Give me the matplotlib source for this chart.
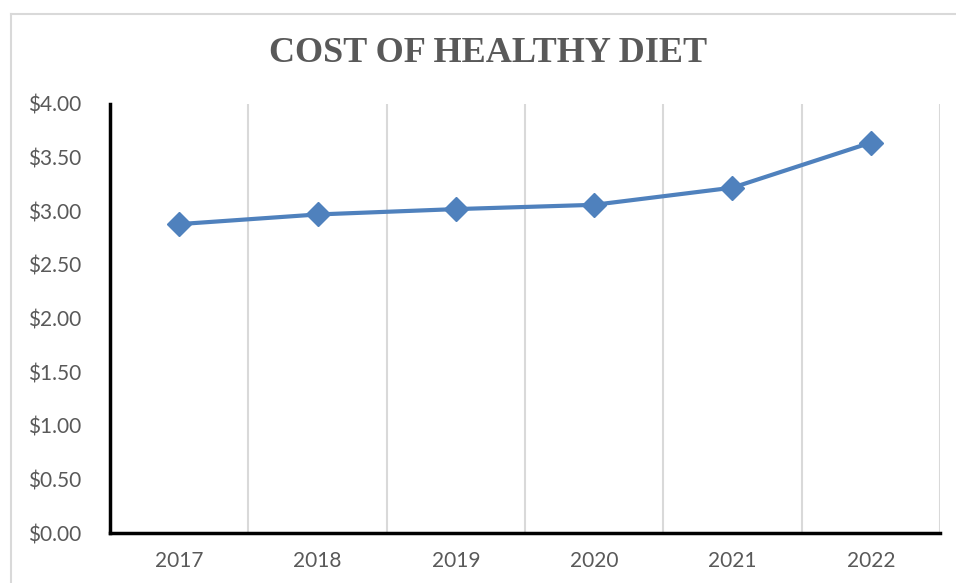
import matplotlib
matplotlib.use("Agg")
import matplotlib.pyplot as plt
from matplotlib.lines import Line2D
from matplotlib.ticker import FuncFormatter, FixedLocator

years = ["2017", "2018", "2019", "2020", "2021", "2022"]
cost = [2.88, 2.97, 3.02, 3.06, 3.22, 3.64]
y_ticks = [0.0, 0.5, 1.0, 1.5, 2.0, 2.5, 3.0, 3.5, 4.0]

fig = plt.figure(figsize=(9.56, 5.83), dpi=100)
ax = fig.add_axes([110/956, 1-533/583, 830/956, 429/583])

x = list(range(len(years)))
ax.plot(x, cost, color="#4F81BD", lw=3, marker="D", markersize=12,
        markerfacecolor="#4F81BD", markeredgecolor="#4F81BD", zorder=3, clip_on=False)

ax.set_xlim(-0.5, len(years) - 0.5)
ax.set_ylim(0, 4)
ax.set_xticks(x)
ax.set_xticklabels(years)
ax.set_yticks(y_ticks)
ax.yaxis.set_major_formatter(FuncFormatter(lambda v, p: f"${v:.2f}"))

ax.xaxis.set_minor_locator(FixedLocator([i + 0.5 for i in range(len(years))]))
ax.grid(which="minor", axis="x", color="#D9D9D9", lw=1.5)
ax.grid(which="major", visible=False)
ax.set_axisbelow(True)

for s in ["top", "right"]:
    ax.spines[s].set_visible(False)
for s in ["left", "bottom"]:
    ax.spines[s].set_linewidth(2.5)
    ax.spines[s].set_color("black")

ax.tick_params(axis="both", which="both", length=0)
ax.tick_params(axis="y", pad=20.5, labelsize=15, labelcolor="#595959")
ax.tick_params(axis="x", pad=13, labelsize=15, labelcolor="#595959")
for lab in ax.get_xticklabels() + ax.get_yticklabels():
    lab.set_family("Lato")

fig.text(488/956, 1-54/583, "COST OF HEALTHY DIET", ha="center", va="center",
         fontsize=26, fontweight="bold", family="Liberation Serif", color="#595959")

# outer chart border (top and left visible)
fig.add_artist(Line2D([11/956, 11/956], [0, 1-14/583], transform=fig.transFigure,
                      color="#D9D9D9", lw=1.5))
fig.add_artist(Line2D([11/956, 1], [1-14/583, 1-14/583], transform=fig.transFigure,
                      color="#D9D9D9", lw=1.5))

fig.savefig("out.png", dpi=100)
